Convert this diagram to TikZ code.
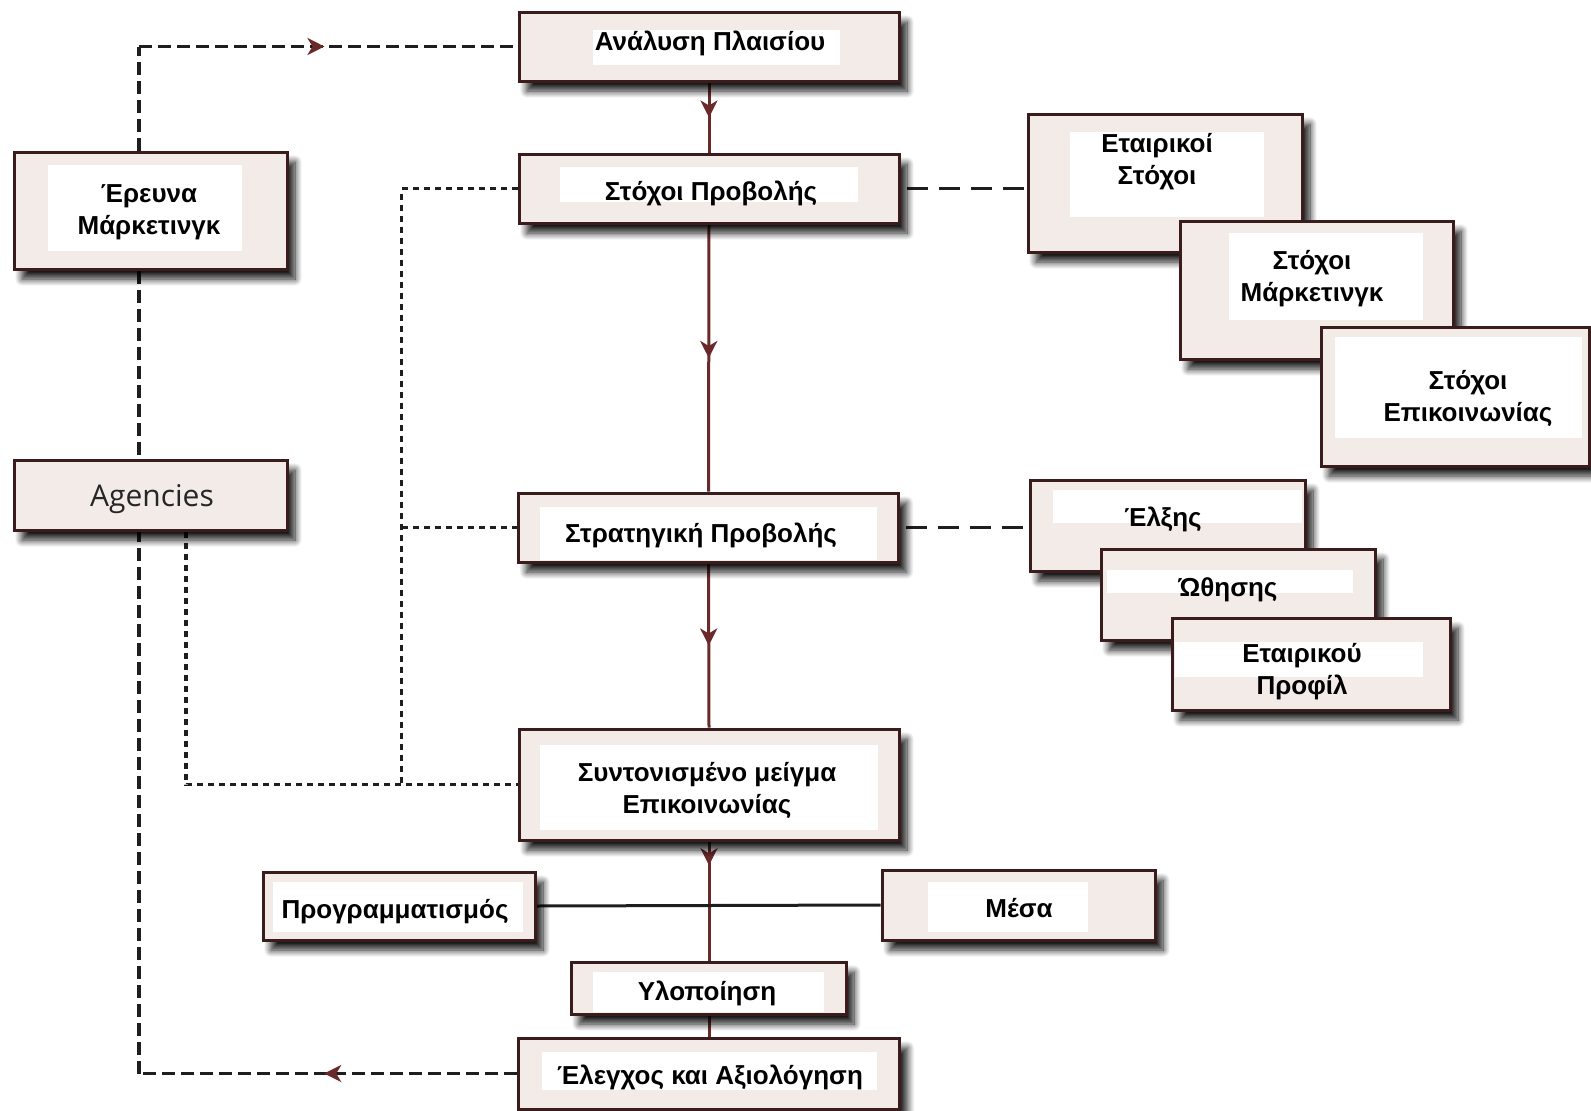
\documentclass[tikz,border=0pt]{standalone}
\usepackage{fontspec}
\setmainfont{Liberation Sans}
\newfontfamily\agfont{Open Sans}
\usetikzlibrary{shadows.blur,decorations.markings,arrows.meta,calc}
\definecolor{boxfill}{HTML}{F3EBE7}
\definecolor{boxline}{HTML}{3A1C1C}
\definecolor{conn}{HTML}{6A2A2A}
\definecolor{dashc}{HTML}{1E1E1E}
\pgfdeclarelayer{bg}
\pgfsetlayers{bg,main}
\newcommand\mkbox[8]{%
  \node[box, minimum width=#3, minimum height=#4,
    path picture={\fill[white] ($(path picture bounding box.center)+(#5)$) rectangle ++(#6);}]
    (#1) at (#2) {};
  \node[lbl] (#1-t) #7 {#8};}
\tikzset{
  box/.style={draw=boxline, line width=3pt, fill=boxfill, inner sep=0pt,
    blur shadow={shadow xshift=8pt, shadow yshift=-10pt, shadow blur radius=7pt, shadow blur steps=12, shadow opacity=90}},
  lbl/.style={font=\fontsize{26}{32}\selectfont\bfseries, align=center, inner sep=0pt, text=black},
  aglbl/.style={font=\agfont\fontsize{30}{32}\selectfont, inner sep=0pt, text=black!85},
  midarrow/.style={postaction={decorate}, decoration={markings,
    mark=at position #1 with {\arrow[conn]{Stealth[length=17pt,width=17pt,inset=5pt]}}}},
  solidc/.style={draw=conn, line width=3pt},
  dashA/.style={draw=dashc, line width=3.4pt, dash pattern=on 13pt off 6pt},
  dotc/.style={draw=dashc, line width=3.4pt, dash pattern=on 6pt off 5pt},
  longd/.style={draw=dashc, line width=3pt, dash pattern=on 21pt off 11pt, shorten <=6pt},
  hline/.style={draw=dashc, line width=3pt}
}
\begin{document}
\begin{tikzpicture}[x=1pt,y=-1pt]
\useasboundingbox (0,0) rectangle (1591,1111);
% main column
\mkbox{ana}{709,46.5}{380}{69}{-116,-16.5}{247,35}{[anchor=base] at (710,50)}{Ανάλυση Πλαισίου}
\mkbox{stp}{709,188.5}{380}{69}{-149,-21.5}{298,35}{[anchor=base] at (711,200)}{Στόχοι Προβολής}
\mkbox{ere}{150.5,210.5}{273}{117}{-102.5,-45.5}{194,86}{at (149,212)}{Έρευνα\\Μάρκετινγκ}
\node[box, minimum width=273, minimum height=70] (age) at (150.5,495) {};
\node[aglbl, anchor=base] (age-t) at (152,506) {Agencies};
\mkbox{str}{708.5,527.5}{380}{69}{-168.5,-20.5}{337,53}{[anchor=base] at (701,542)}{Στρατηγική Προβολής}
\mkbox{syn}{709,784.5}{380}{111}{-169,-39.5}{338,85}{at (707,790.5)}{Συντονισμένο μείγμα\\Επικοινωνίας}
\mkbox{pro}{399,906}{272}{68}{-126,-24}{250,50}{[anchor=base] at (395,918)}{Προγραμματισμός}
\mkbox{mes}{1018.5,905}{273}{70}{-90.5,-23}{160,50}{[anchor=base] at (1019,917)}{Μέσα}
\mkbox{ylo}{708.5,988}{275}{52}{-115.5,-16}{231,40}{[anchor=base] at (707,1000)}{Υλοποίηση}
\mkbox{ele}{709,1073.5}{381}{71}{-167,-21.5}{335,38}{[anchor=base] at (710,1084)}{Έλεγχος και Αξιολόγηση}
% right stacks
\mkbox{eta}{1165,183}{274}{138}{-95,-51}{194,85}{at (1157,162)}{Εταιρικοί\\Στόχοι}
\mkbox{mar}{1316.5,290}{273}{138}{-87.5,-57}{194,87}{at (1312,279)}{Στόχοι\\Μάρκετινγκ}
\mkbox{epi}{1455,396.5}{268}{139}{-120,-59.5}{247,101}{at (1468,398)}{Στόχοι\\Επικοινωνίας}
\mkbox{elx}{1167.5,525.5}{275}{91}{-114.5,-35.5}{249,33}{[anchor=base] at (1163,526)}{Έλξης}
\mkbox{oth}{1238,594.5}{274}{91}{-131,-24.5}{246,23}{[anchor=base] at (1228,596)}{Ώθησης}
\mkbox{prf}{1311,664}{278}{92}{-136,-22}{248,35}{at (1302,672)}{Εταιρικού\\Προφίλ}
% connectors
\begin{pgfonlayer}{bg}
\draw[solidc, midarrow=0.5] (ana.south) -- (stp.north);
\draw[solidc, midarrow=0.5] (stp.south) -- (str.north);
\draw[solidc, midarrow=0.5] (str.south) -- (syn.north);
\draw[solidc, midarrow=0.2] (syn.south) -- (syn.south |- ylo.north);
\draw[solidc] (ylo.south -| syn.south) -- (ele.north);
\draw[hline] (pro.east) -- (mes.west);
% left dashed loop
\coordinate (tl) at ([xshift=-11.5pt]ere.north |- ana.west);
\draw[dashA] ([xshift=-11.5pt]ere.north) -- (tl);
\draw[dashA, midarrow=0.49] (tl) -- (ana.west);
\draw[dashA] ([xshift=-11.5pt]ere.south) -- ([xshift=-11.5pt]age.north);
\coordinate (bl) at ([xshift=-11.5pt]age.south |- ele.west);
\draw[dashA, midarrow=0.51] (ele.west) -- (bl);
\draw[dashA] (bl) -- ([xshift=-11.5pt]age.south);
% dotted
\coordinate (dl) at ([xshift=35.5pt]age.south |- syn.west);
\draw[dotc] ([xshift=35.5pt]age.south) -- (dl) -- (syn.west);
\coordinate (dj) at ([xshift=-116pt]syn.west);
\draw[dotc] (stp.west) -| (dj);
\draw[dotc] (dj |- str.west) -- (str.west);
% long dashed to the right stacks
\draw[longd] (stp.east) -- (eta.west |- stp.east);
\draw[longd] (str.east) -- (elx.west |- str.east);
\end{pgfonlayer}
\end{tikzpicture}
\end{document}
